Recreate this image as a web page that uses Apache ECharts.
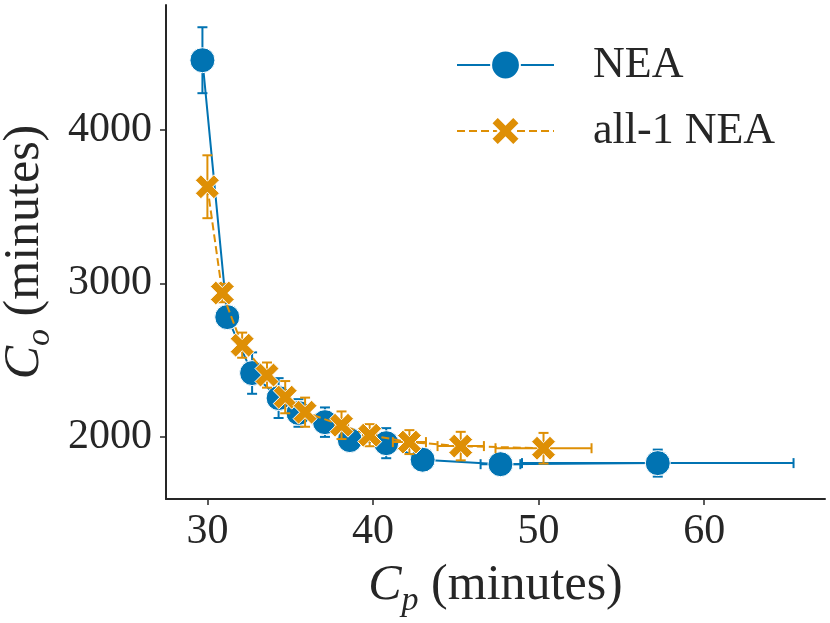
<!DOCTYPE html>
<html>
<head>
<meta charset="utf-8">
<script src="https://cdn.jsdelivr.net/npm/echarts@6/dist/echarts.min.js"></script>
<style>
  html, body { margin: 0; padding: 0; background: #fff; }
  #chart { width: 830px; height: 623px; }
</style>
</head>
<body>
<div id="chart"></div>
<script>
// NEA
var neaX = [29.7, 31.2, 32.7, 34.3, 35.5, 37.1, 38.6, 40.8, 43.0, 47.7, 57.2];
var neaY = [4455, 2780, 2415, 2252, 2155, 2095, 1978, 1958, 1850, 1821, 1828];
var neaXErr = [0.1, 0.1, 0.2, 0.2, 0.2, 0.3, 0.3, 0.4, 0.5, 1.2, 8.2];
var neaYErr = [215, 60, 135, 130, 90, 96, 50, 98, 40, 25, 88];

// all-1 NEA
var allX = [30.0, 30.9, 32.1, 33.6, 34.7, 35.9, 38.1, 39.8, 42.2, 45.3, 50.3];
var allY = [3630, 2937, 2597, 2402, 2258, 2160, 2075, 2010, 1965, 1939, 1925];
var allXErr = [0.2, 0.1, 0.2, 0.2, 0.3, 0.3, 0.4, 0.4, 1.0, 1.4, 2.9];
var allYErr = [205, 60, 82, 82, 105, 95, 90, 72, 78, 93, 100];

var xTicks = [30, 40, 50, 60];
var yTicks = [2000, 3000, 4000];

var blue = '#0173b2';
var orange = '#de8f05';
var ink = '#262626';
var serif = 'Liberation Serif';

var xShape = 'path://M0,2.3L2.3,0L5,2.7L7.7,0L10,2.3L7.3,5L10,7.7L7.7,10L5,7.3L2.3,10L0,7.7L2.7,5Z';

var pairs = function (xs, ys) {
    var res = [];
    for (var i = 0; i < xs.length; i++) res.push([xs[i], ys[i]]);
    return res;
};
var errRows = function (xs, ys, ex, ey) {
    var res = [];
    for (var i = 0; i < xs.length; i++) res.push([xs[i], ys[i], ex[i], ey[i]]);
    return res;
};

// error bars with caps, both directions
var errRender = function (color) {
    return function (params, api) {
        var x = api.value(0), y = api.value(1), ex = api.value(2), ey = api.value(3);
        var c = 5;
        var top = api.coord([x, y + ey]), bot = api.coord([x, y - ey]);
        var lft = api.coord([x - ex, y]), rgt = api.coord([x + ex, y]);
        var st = { stroke: color, lineWidth: 2 };
        var seg = function (x1, y1, x2, y2) {
            return { type: 'line', shape: { x1: x1, y1: y1, x2: x2, y2: y2 }, style: st };
        };
        return {
            type: 'group',
            children: [
                seg(top[0], top[1], bot[0], bot[1]),
                seg(top[0] - c, top[1], top[0] + c, top[1]),
                seg(bot[0] - c, bot[1], bot[0] + c, bot[1]),
                seg(lft[0], lft[1], rgt[0], rgt[1]),
                seg(lft[0], lft[1] - c, lft[0], lft[1] + c),
                seg(rgt[0], rgt[1] - c, rgt[0], rgt[1] + c)
            ]
        };
    };
};

var titleRich = {
    i: { fontFamily: serif, fontStyle: 'italic', fontSize: 50, color: ink, lineHeight: 56, verticalAlign: 'middle' },
    s: { fontFamily: serif, fontStyle: 'italic', fontSize: 34, color: ink, lineHeight: 34, verticalAlign: 'top', padding: [26, 0, 0, 0] },
    t: { fontFamily: serif, fontSize: 50, color: ink, lineHeight: 56, verticalAlign: 'middle' }
};

var option = {
    backgroundColor: '#fff',
    animation: false,
    grid: { left: 166, right: 5, top: 5, bottom: 124, outerBoundsMode: 'none', containLabel: false },
    legend: {
        orient: 'vertical',
        left: 451,
        top: 38,
        itemWidth: 97,
        itemHeight: 36,
        itemGap: 22,
        textStyle: { fontFamily: serif, fontSize: 44, color: ink, padding: [0, 0, 0, 34] },
        data: ['NEA', 'all-1 NEA']
    },
    xAxis: {
        type: 'value',
        min: 27.5,
        max: 67.3,
        name: '{i|C}{s|p}{t| (minutes)}',
        nameLocation: 'middle',
        nameGap: 58,
        nameTextStyle: { rich: titleRich },
        splitLine: { show: false },
        axisLine: { lineStyle: { color: ink, width: 2 } },
        axisTick: { length: 6, lineStyle: { color: ink, width: 1.5 }, customValues: xTicks },
        axisLabel: { fontFamily: serif, fontSize: 42, color: ink, margin: 12, customValues: xTicks }
    },
    yAxis: {
        type: 'value',
        min: 1594,
        max: 4815,
        name: '{i|C}{s|o}{t| (minutes)}',
        nameLocation: 'middle',
        nameRotate: 90,
        nameGap: 105,
        nameTextStyle: { rich: titleRich },
        splitLine: { show: false },
        axisLine: { show: true, lineStyle: { color: ink, width: 2 } },
        axisTick: { show: true, length: 6, lineStyle: { color: ink, width: 1.5 }, customValues: yTicks },
        axisLabel: {
            fontFamily: serif, fontSize: 42, color: ink, margin: 14, customValues: yTicks,
            formatter: function (v) { return String(v); }
        }
    },
    series: [
        {
            type: 'custom',
            name: 'NEA err',
            z: 1,
            renderItem: errRender(blue),
            data: errRows(neaX, neaY, neaXErr, neaYErr),
            silent: true
        },
        {
            name: 'NEA',
            type: 'line',
            z: 2,
            data: pairs(neaX, neaY),
            symbol: 'circle',
            symbolSize: 25,
            showAllSymbol: true,
            lineStyle: { color: blue, width: 2 },
            itemStyle: { color: blue, borderColor: '#fff', borderWidth: 1 }
        },
        {
            type: 'custom',
            name: 'all-1 err',
            z: 3,
            renderItem: errRender(orange),
            data: errRows(allX, allY, allXErr, allYErr),
            silent: true
        },
        {
            name: 'all-1 NEA',
            type: 'line',
            z: 4,
            data: pairs(allX, allY),
            symbol: xShape,
            symbolSize: 24,
            showAllSymbol: true,
            lineStyle: { color: orange, width: 2, type: [8, 4] },
            itemStyle: { color: orange, borderColor: '#fff', borderWidth: 1 }
        }
    ]
};

var myChart = echarts.init(document.getElementById('chart'));
myChart.setOption(option);
</script>
</body>
</html>
